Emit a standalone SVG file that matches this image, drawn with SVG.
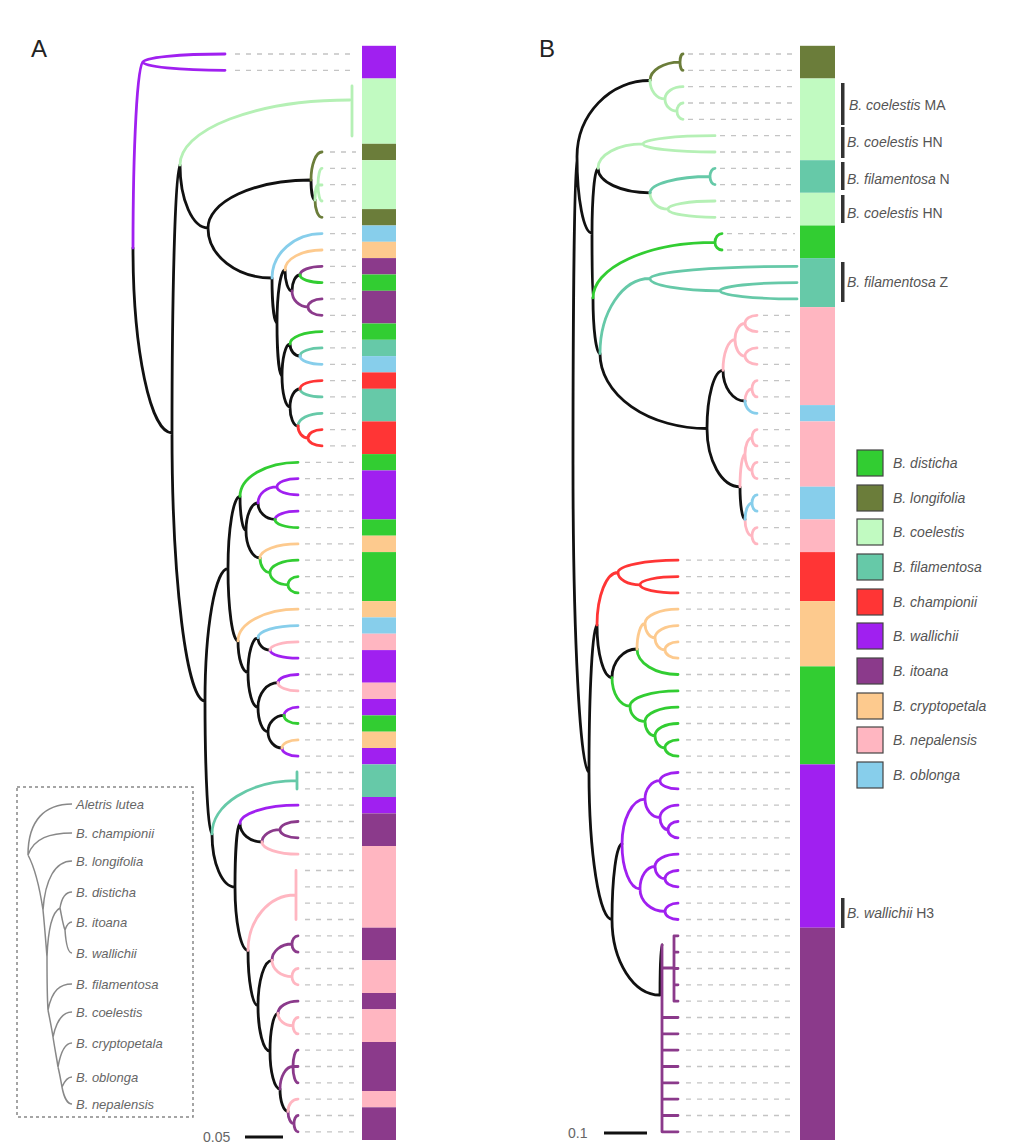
<svg xmlns="http://www.w3.org/2000/svg" width="1020" height="1147" viewBox="0 0 1020 1147">
<style>
.t{fill:none;stroke-width:2.8;stroke-linecap:round;stroke-linejoin:round}
.k{stroke:#111}.W{stroke:#a020f0}.I{stroke:#8b3a8b}.D{stroke:#32cd32}.L{stroke:#6b7d3a}.C{stroke:#b5f0b5}.F{stroke:#66c9a8}.R{stroke:#ff3535}.P{stroke:#fdca8e}.N{stroke:#ffb6c1}.O{stroke:#87ceeb}
.fW{fill:#a020f0}.fI{fill:#8b3a8b}.fD{fill:#32cd32}.fL{fill:#6b7d3a}.fC{fill:#c1fac1}.fF{fill:#66c9a8}.fR{fill:#ff3535}.fP{fill:#fdca8e}.fN{fill:#ffb6c1}.fO{fill:#87ceeb}
.dash{fill:none;stroke:#c4c4c4;stroke-width:1.3;stroke-dasharray:5 6}
.lab{font-family:"Liberation Sans",Arial,sans-serif;font-size:14px;fill:#555;font-style:italic}
.ins{font-family:"Liberation Sans",Arial,sans-serif;font-size:13px;fill:#666;font-style:italic}
.gr{fill:none;stroke:#888;stroke-width:1.5}
.sq{stroke:#444;stroke-width:1.2}
.br{fill:#333}
</style>

<text x="31" y="57" font-family="Liberation Sans, Arial, sans-serif" font-size="24" fill="#222">A</text>
<text x="539" y="57" font-family="Liberation Sans, Arial, sans-serif" font-size="24" fill="#222">B</text>

<!-- dashed guide lines -->
<g id="dashesA">
<path class="dash" d="M235 54H356M235 70.3H356M330 152H356M330 168.3H356M330 184.6H356M330 201H356M330 217.3H356M330 233.6H356M330 250H356M330 266.3H356M330 282.6H356M330 298.9H356M330 315.3H356M330 331.6H356M330 347.9H356M330 364.3H356M330 380.6H356M330 396.9H356M330 413.3H356M330 429.6H356M330 445.9H356M305 462.3H356M305 478.6H356M305 494.9H356M305 511.2H356M305 527.6H356M305 543.9H356M305 560.2H356M305 576.6H356M305 592.9H356M305 609.2H356M305 625.6H356M305 641.9H356M305 658.2H356M305 674.5H356M305 690.9H356M305 707.2H356M305 723.5H356M305 739.9H356M305 756.2H356M305 772.5H356M305 788.9H356M305 805.2H356M305 821.5H356M305 837.8H356M305 854.2H356M305 870.5H356M305 886.8H356M305 903.2H356M305 919.5H356M305 935.8H356M305 952.2H356M305 968.5H356M305 984.8H356M305 1001.2H356M305 1017.5H356M305 1033.8H356M305 1050.1H356M305 1066.5H356M305 1082.8H356M305 1099.1H356M305 1115.5H356M305 1131.8H356"/>
</g>
<g id="dashesB">
<path class="dash" d="M688 54H795M688 70.3H795M688 86.7H795M688 103H795M688 119.3H795M720 135.7H795M720 152H795M720 168.3H795M720 184.6H795M720 201H795M720 217.3H795M727 233.6H795M727 250H795M763 315.3H795M763 331.6H795M763 347.9H795M763 364.3H795M763 380.6H795M763 396.9H795M763 413.3H795M763 429.6H795M763 445.9H795M763 462.3H795M763 478.6H795M763 494.9H795M763 511.2H795M763 527.6H795M763 543.9H795M686 560.2H795M686 576.6H795M686 592.9H795M686 609.2H795M686 625.6H795M686 641.9H795M686 658.2H795M686 674.5H795M686 690.9H795M686 707.2H795M686 723.5H795M686 739.9H795M686 756.2H795M686 772.5H795M686 788.9H795M686 805.2H795M686 821.5H795M686 837.8H795M686 854.2H795M686 870.5H795M686 886.8H795M686 903.2H795M686 919.5H795M686 935.8H795M686 952.2H795M686 968.5H795M686 984.8H795M686 1001.2H795M686 1017.5H795M686 1033.8H795M686 1050.1H795M686 1066.5H795M686 1082.8H795M686 1099.1H795M686 1115.5H795M686 1131.8H795"/>
</g>

<!-- colour bar A -->
<g id="barA">
<rect class="fW" x="362" y="45.8" width="34" height="32.7"/>
<rect class="fC" x="362" y="78.5" width="34" height="65.3"/>
<rect class="fL" x="362" y="143.8" width="34" height="16.4"/>
<rect class="fC" x="362" y="160.2" width="34" height="48.9"/>
<rect class="fL" x="362" y="209.1" width="34" height="16.4"/>
<rect class="fO" x="362" y="225.5" width="34" height="16.3"/>
<rect class="fP" x="362" y="241.8" width="34" height="16.3"/>
<rect class="fI" x="362" y="258.1" width="34" height="16.4"/>
<rect class="fD" x="362" y="274.5" width="34" height="16.3"/>
<rect class="fI" x="362" y="290.8" width="34" height="32.7"/>
<rect class="fD" x="362" y="323.5" width="34" height="16.3"/>
<rect class="fF" x="362" y="339.8" width="34" height="16.3"/>
<rect class="fO" x="362" y="356.1" width="34" height="16.3"/>
<rect class="fR" x="362" y="372.4" width="34" height="16.4"/>
<rect class="fF" x="362" y="388.8" width="34" height="32.6"/>
<rect class="fR" x="362" y="421.4" width="34" height="32.7"/>
<rect class="fD" x="362" y="454.1" width="34" height="16.3"/>
<rect class="fW" x="362" y="470.4" width="34" height="49"/>
<rect class="fD" x="362" y="519.4" width="34" height="16.3"/>
<rect class="fP" x="362" y="535.7" width="34" height="16.4"/>
<rect class="fD" x="362" y="552.1" width="34" height="49"/>
<rect class="fP" x="362" y="601.1" width="34" height="16.3"/>
<rect class="fO" x="362" y="617.4" width="34" height="16.3"/>
<rect class="fN" x="362" y="633.7" width="34" height="16.4"/>
<rect class="fW" x="362" y="650.1" width="34" height="32.6"/>
<rect class="fN" x="362" y="682.7" width="34" height="16.3"/>
<rect class="fW" x="362" y="699" width="34" height="16.4"/>
<rect class="fD" x="362" y="715.4" width="34" height="16.3"/>
<rect class="fP" x="362" y="731.7" width="34" height="16.3"/>
<rect class="fW" x="362" y="748" width="34" height="16.4"/>
<rect class="fF" x="362" y="764.4" width="34" height="32.6"/>
<rect class="fW" x="362" y="797" width="34" height="16.4"/>
<rect class="fI" x="362" y="813.4" width="34" height="32.6"/>
<rect class="fN" x="362" y="846" width="34" height="81.7"/>
<rect class="fI" x="362" y="927.7" width="34" height="32.6"/>
<rect class="fN" x="362" y="960.3" width="34" height="32.7"/>
<rect class="fI" x="362" y="993" width="34" height="16.3"/>
<rect class="fN" x="362" y="1009.3" width="34" height="32.7"/>
<rect class="fI" x="362" y="1042" width="34" height="49"/>
<rect class="fN" x="362" y="1091" width="34" height="16.3"/>
<rect class="fI" x="362" y="1107.3" width="34" height="32.7"/>
</g>

<!-- colour bar B -->
<g id="barB">
<rect class="fL" x="800" y="45.8" width="35" height="32.7"/>
<rect class="fC" x="800" y="78.5" width="35" height="81.7"/>
<rect class="fF" x="800" y="160.2" width="35" height="32.6"/>
<rect class="fC" x="800" y="192.8" width="35" height="32.7"/>
<rect class="fD" x="800" y="225.5" width="35" height="32.6"/>
<rect class="fF" x="800" y="258.1" width="35" height="49"/>
<rect class="fN" x="800" y="307.1" width="35" height="98"/>
<rect class="fO" x="800" y="405.1" width="35" height="16.3"/>
<rect class="fN" x="800" y="421.4" width="35" height="65.3"/>
<rect class="fO" x="800" y="486.7" width="35" height="32.7"/>
<rect class="fN" x="800" y="519.4" width="35" height="32.7"/>
<rect class="fR" x="800" y="552.1" width="35" height="49"/>
<rect class="fP" x="800" y="601.1" width="35" height="65.3"/>
<rect class="fD" x="800" y="666.4" width="35" height="98"/>
<rect class="fW" x="800" y="764.4" width="35" height="163.3"/>
<rect class="fI" x="800" y="927.7" width="35" height="212.3"/>
</g>

<!-- tree A -->
<g id="treeA">
<path class="t k" d="M133 248A39 185 0 0 0 172 433M172 433A8 268 0 0 1 180 165M172 433A33 268 0 0 0 205 701M180 165A28 63 0 0 0 208 228M208 228A103 48 0 0 1 311 180M208 228A64 50 0 0 0 272 278M311 180A4 20 0 0 0 315 200M272 278A5 45 0 0 0 277 323M277 323A8 53 0 0 1 285 270M277 323A5 53 0 0 0 282 376M285 270A7 21 0 0 0 292 291M292 291A8 16 0 0 1 300 275M282 376A8 32 0 0 1 290 344M290 344A10 12 0 0 0 300 356M282 376A8 31 0 0 0 290 407M290 407A10 18 0 0 1 300 389M290 407A8 19 0 0 0 298 426M205 701A23 132.4 0 0 1 228 568.6M205 701A7 132.9 0 0 0 212 833.9M228 568.6A12 72.2 0 0 1 240 496.4M228 568.6A10 72.3 0 0 0 238 640.9M240 496.4A6 34.1 0 0 0 246 530.5M246 530.5A12 27.5 0 0 1 258 503M246 530.5A14 27.5 0 0 0 260 558M258 503A17 16.4 0 0 0 275 519.4M238 640.9A10 31.6 0 0 0 248 672.5M248 672.5A10 34.7 0 0 1 258 637.8M248 672.5A10 34.7 0 0 0 258 707.2M258 637.8A12 12.2 0 0 0 270 650M258 707.2A20 24.5 0 0 1 278 682.7M258 707.2A10 24.5 0 0 0 268 731.7M268 731.7A16 16.3 0 0 1 284 715.4M268 731.7A14 16.3 0 0 0 282 748M212 833.9A23 53.1 0 0 0 235 887M235 887A5 63.4 0 0 1 240 823.6M240 823.6A22 18.4 0 0 0 262 842M235 887A13 63.4 0 0 0 248 950.4M248 950.4A10 55.4 0 0 0 258 1005.8M258 1005.8A14 45.5 0 0 1 272 960.3M258 1005.8A12 45.4 0 0 0 270 1051.2M270 1051.2A8 37.8 0 0 1 278 1013.4M270 1051.2A10 37.8 0 0 0 280 1089M280 1089A8 22.4 0 0 0 288 1111.4"/>
<path class="t W" d="M133 248A10 186 0 0 1 143 62M143 62A82 8 0 0 1 225 54M143 62A82 8.3 0 0 0 225 70.3M258 503A19 16.2 0 0 1 277 486.8M277 486.8A21 8.2 0 0 1 298 478.6M277 486.8A21 8.1 0 0 0 298 494.9M275 519.4A23 8.2 0 0 1 298 511.2M270 650A28 8.2 0 0 0 298 658.2M278 682.7A20 8.2 0 0 1 298 674.5M284 715.4A14 8.2 0 0 1 298 707.2M282 748A16 8.2 0 0 0 298 756.2M240 823.6A58 18.4 0 0 1 298 805.2"/>
<path class="t I" d="M300 275A22 8.7 0 0 1 322 266.3M292 291A16 16 0 0 0 308 307M308 307A14 8.1 0 0 1 322 298.9M308 307A14 8.3 0 0 0 322 315.3M262 842A18 12.3 0 0 1 280 829.7M280 829.7A18 8.2 0 0 1 298 821.5M280 829.7A18 8.1 0 0 0 298 837.8M272 960.3A20 16.3 0 0 1 292 944M292 944A6 8.2 0 0 1 298 935.8M292 944A6 8.2 0 0 0 298 952.2M278 1013.4A20 12.2 0 0 1 298 1001.2M280 1089A13 22.5 0 0 1 293 1066.5M293 1066.5A5 16.4 0 0 1 298 1050.1M293 1066.5H298M293 1066.5A5 16.3 0 0 0 298 1082.8M288 1111.4A6 12.2 0 0 0 294 1123.6M294 1123.6A4 8.1 0 0 1 298 1115.5M294 1123.6A4 8.2 0 0 0 298 1131.8"/>
<path class="t D" d="M300 275A22 7.6 0 0 0 322 282.6M290 344A32 12.4 0 0 1 322 331.6M240 496.4A58 34.1 0 0 1 298 462.3M275 519.4A23 8.2 0 0 0 298 527.6M260 558A10 14.5 0 0 0 270 572.5M270 572.5A28 12.3 0 0 1 298 560.2M270 572.5A18 12.3 0 0 0 288 584.8M288 584.8A10 8.2 0 0 1 298 576.6M288 584.8A10 8.1 0 0 0 298 592.9M284 715.4A14 8.1 0 0 0 298 723.5"/>
<path class="t L" d="M311 180A11 28 0 0 1 322 152M315 200A7 17.3 0 0 0 322 217.3"/>
<path class="t C" d="M180 165A170 65 0 0 1 350 100M315 200A3 15 0 0 1 318 185M318 185A4 16.7 0 0 1 322 168.3M318 185H322M318 185A4 16 0 0 0 322 201"/>
<path class="t C" stroke-width="3.5" d="M352 86V136"/>
<path class="t F" d="M300 356A22 8.1 0 0 1 322 347.9M300 389A22 7.9 0 0 0 322 396.9M298 426A24 12.7 0 0 1 322 413.3M212 833.9A85 53.2 0 0 1 297 780.7M297 772V789"/>
<path class="t R" d="M300 389A22 8.4 0 0 1 322 380.6M298 426A10 12 0 0 0 308 438M308 438A14 8.4 0 0 1 322 429.6M308 438A14 7.9 0 0 0 322 445.9"/>
<path class="t P" d="M285 270A37 20 0 0 1 322 250M260 558A38 14.1 0 0 1 298 543.9M238 640.9A60 31.7 0 0 1 298 609.2M282 748A16 8.1 0 0 1 298 739.9"/>
<path class="t N" d="M270 650A28 8.1 0 0 1 298 641.9M278 682.7A20 8.2 0 0 0 298 690.9M262 842A36 12.2 0 0 0 298 854.2M248 950.4A47 55.4 0 0 1 295 895M296 870.5V919.5M272 960.3A20 16.4 0 0 0 292 976.7M292 976.7A6 8.2 0 0 1 298 968.5M292 976.7A6 8.1 0 0 0 298 984.8M278 1013.4A15 12.3 0 0 0 293 1025.7M293 1025.7A5 8.2 0 0 1 298 1017.5M293 1025.7A5 8.1 0 0 0 298 1033.8M288 1111.4A10 12.3 0 0 1 298 1099.1"/>
<path class="t O" d="M272 278A50 44.4 0 0 1 322 233.6M300 356A22 8.3 0 0 0 322 364.3M258 637.8A40 12.2 0 0 1 298 625.6"/>
</g>

<!-- tree B -->
<g id="treeB">
<path class="t k" d="M573 464.5A4 307.7 0 0 1 577 156.8M573 464.5A16 307.8 0 0 0 589 772.3M577 156.8A73 76.3 0 0 1 650 80.5M577 156.8A15 76.3 0 0 0 592 233.1M592 233.1A6 64.8 0 0 1 598 168.3M592 233.1A1 64.8 0 0 0 593 297.9M598 168.3A52 24.5 0 0 0 650 192.8M593 297.9A7 55.6 0 0 0 600 353.5M600 353.5A107 75 0 0 0 707 428.5M707 428.5A16 58.2 0 0 1 723 370.3M707 428.5A33 58.3 0 0 0 740 486.8M723 370.3A22 30.7 0 0 0 745 401M740 486.8A5 32.6 0 0 0 745 519.4M589 772.3A8 147.3 0 0 1 597 625M589 772.3A23 147.2 0 0 0 612 919.5M597 625A15 52.6 0 0 0 612 677.6M612 677.6A25 28.6 0 0 1 637 649M612 919.5A10 75.5 0 0 1 622 844M612 919.5A48 75.5 0 0 0 660 995M660 995A2 50 0 0 1 662 945"/>
<path class="t L" d="M650 80.5A30 18.3 0 0 1 680 62.2M680 62.2A3 8.2 0 0 1 683 54M680 62.2A3 8.1 0 0 0 683 70.3"/>
<path class="t C" d="M650 80.5A15 18.4 0 0 0 665 98.9M665 98.9A18 12.2 0 0 1 683 86.7M665 98.9A12 12.3 0 0 0 677 111.2M677 111.2A6 8.2 0 0 1 683 103M677 111.2A6 8.1 0 0 0 683 119.3M598 168.3A45 24.4 0 0 1 643 143.9M643 143.9A72 8.2 0 0 1 715 135.7M643 143.9A72 8.1 0 0 0 715 152M650 192.8A18 16.4 0 0 0 668 209.2M668 209.2A47 8.2 0 0 1 715 201M668 209.2A47 8.1 0 0 0 715 217.3"/>
<path class="t F" d="M650 192.8A60 16.3 0 0 1 710 176.5M710 176.5A5 8.2 0 0 1 715 168.3M710 176.5A5 8.1 0 0 0 715 184.6M600 353.5A50 75 0 0 1 650 278.5M650 278.5A147 12.2 0 0 1 797 266.3M650 278.5A70 12.3 0 0 0 720 290.8M720 290.8A77 8.2 0 0 1 797 282.6M720 290.8A77 8.1 0 0 0 797 298.9"/>
<path class="t D" d="M593 297.9A122 55.5 0 0 1 715 242.4M715 242.4A7 8.8 0 0 1 722 233.6M715 242.4A7 7.6 0 0 0 722 250M637 649A41 25.5 0 0 0 678 674.5M612 677.6A18 28.6 0 0 0 630 706.2M630 706.2A48 15.3 0 0 1 678 690.9M630 706.2A15 15.3 0 0 0 645 721.5M645 721.5A33 14.3 0 0 1 678 707.2M645 721.5A10 14.3 0 0 0 655 735.8M655 735.8A23 12.3 0 0 1 678 723.5M655 735.8A10 12.2 0 0 0 665 748M665 748A13 8.1 0 0 1 678 739.9M665 748A13 8.2 0 0 0 678 756.2"/>
<path class="t N" d="M723 370.3A12 30.7 0 0 1 735 339.6M735 339.6A10 16.1 0 0 1 745 323.5M745 323.5A12 8.2 0 0 1 757 315.3M745 323.5A12 8.1 0 0 0 757 331.6M735 339.6A10 16.5 0 0 0 745 356.1M745 356.1A12 8.2 0 0 1 757 347.9M745 356.1A12 8.2 0 0 0 757 364.3M745 401A7 12.2 0 0 1 752 388.8M752 388.8A5 8.2 0 0 1 757 380.6M752 388.8A5 8.1 0 0 0 757 396.9M740 486.8A5 32.7 0 0 1 745 454.1M745 454.1A7 16.3 0 0 1 752 437.8M752 437.8A5 8.2 0 0 1 757 429.6M752 437.8A5 8.1 0 0 0 757 445.9M745 454.1A7 16.3 0 0 0 752 470.4M752 470.4A5 8.1 0 0 1 757 462.3M752 470.4A5 8.2 0 0 0 757 478.6M745 519.4A7 16.4 0 0 0 752 535.8M752 535.8A5 8.2 0 0 1 757 527.6M752 535.8A5 8.1 0 0 0 757 543.9"/>
<path class="t O" d="M745 401A12 12.3 0 0 0 757 413.3M745 519.4A7 16.3 0 0 1 752 503.1M752 503.1A5 8.2 0 0 1 757 494.9M752 503.1A5 8.1 0 0 0 757 511.2"/>
<path class="t R" d="M597 625A21 52.5 0 0 1 618 572.5M618 572.5A60 12.3 0 0 1 678 560.2M618 572.5A22 12.3 0 0 0 640 584.8M640 584.8A38 8.2 0 0 1 678 576.6M640 584.8A38 8.1 0 0 0 678 592.9"/>
<path class="t P" d="M637 649A8 25.5 0 0 1 645 623.5M645 623.5A33 14.3 0 0 1 678 609.2M645 623.5A10 14.3 0 0 0 655 637.8M655 637.8A23 12.2 0 0 1 678 625.6M655 637.8A10 12.2 0 0 0 665 650M665 650A13 8.1 0 0 1 678 641.9M665 650A13 8.2 0 0 0 678 658.2"/>
<path class="t W" d="M622 844A23 44.9 0 0 1 645 799.1M645 799.1A15 18.4 0 0 1 660 780.7M660 780.7A18 8.2 0 0 1 678 772.5M660 780.7A18 8.2 0 0 0 678 788.9M645 799.1A15 18.4 0 0 0 660 817.5M660 817.5A18 12.3 0 0 1 678 805.2M660 817.5A8 12.2 0 0 0 668 829.7M668 829.7A10 8.2 0 0 1 678 821.5M668 829.7A10 8.1 0 0 0 678 837.8M622 844A18 45 0 0 0 640 889M640 889A15 22.5 0 0 1 655 866.5M655 866.5A23 12.3 0 0 1 678 854.2M655 866.5A10 12.2 0 0 0 665 878.7M665 878.7A13 8.2 0 0 1 678 870.5M665 878.7A13 8.1 0 0 0 678 886.8M640 889A25 22.4 0 0 0 665 911.4M665 911.4A13 8.2 0 0 1 678 903.2M665 911.4A13 8.1 0 0 0 678 919.5"/>
<path class="t I" d="M662 945V1131.8M674 935.8V1001.2M662 968H674M674 935.8H678M674 952.2H678M674 968.5H678M674 984.8H678M674 1001.2H678M662 1017.5H678M662 1033.8H678M662 1050.1H678M662 1066.5H678M662 1082.8H678M662 1099.1H678M662 1115.5H678M662 1131.8H678"/>
</g>

<!-- scale bars -->
<g id="scaleA">
<text x="203" y="1142" font-family="Liberation Sans, Arial, sans-serif" font-size="14" fill="#666">0.05</text>
<path d="M245 1137H283" stroke="#111" stroke-width="3"/>
</g>
<g id="scaleB">
<text x="568" y="1138" font-family="Liberation Sans, Arial, sans-serif" font-size="14" fill="#666">0.1</text>
<path d="M604 1133H647" stroke="#111" stroke-width="3"/>
</g>

<!-- inset species tree -->
<g id="inset">
<rect x="17" y="787" width="176" height="330" fill="none" stroke="#888" stroke-width="1.5" stroke-dasharray="3 3"/>
<path class="gr" d="M28 855C28 820 45 804 72 804M28 855C34 838 50 833 72 833M28 855C36 870 40 890 43 910M43 910C45 880 55 861 72 861M43 910C45 930 46 945 47 957M47 957C48 930 52 912 60 908M60 908C62 896 66 892 72 892M60 908C62 918 63 925 65 930M65 930C67 924 69 922 72 922M65 930C66 945 68 953 72 953M47 957C47 980 47 995 48 1010M48 1010C52 990 60 984 72 984M48 1010C50 1020 52 1030 53 1037M53 1037C57 1018 64 1012 72 1012M53 1037C55 1050 57 1060 58 1067M58 1067C61 1050 66 1043 72 1043M58 1067C60 1075 61 1082 62 1087M62 1087C65 1080 68 1077 72 1077M62 1087C64 1098 68 1104 72 1104"/>
<text class="ins" x="76" y="808.5">Aletris lutea</text>
<text class="ins" x="76" y="837.5">B. championii</text>
<text class="ins" x="76" y="865.5">B. longifolia</text>
<text class="ins" x="76" y="896.5">B. disticha</text>
<text class="ins" x="76" y="926.5">B. itoana</text>
<text class="ins" x="76" y="957.5">B. wallichii</text>
<text class="ins" x="76" y="988.5">B. filamentosa</text>
<text class="ins" x="76" y="1016.5">B. coelestis</text>
<text class="ins" x="76" y="1047.5">B. cryptopetala</text>
<text class="ins" x="76" y="1081.5">B. oblonga</text>
<text class="ins" x="76" y="1108.5">B. nepalensis</text>
</g>

<!-- bracket labels panel B -->
<g id="lab-coelestis-MA"><rect class="br" x="841" y="83" width="3.5" height="42"/><text class="lab" x="849" y="110">B. coelestis<tspan font-style="normal"> MA</tspan></text></g>
<g id="lab-coelestis-HN1"><rect class="br" x="841" y="127" width="3.5" height="31"/><text class="lab" x="847" y="147">B. coelestis<tspan font-style="normal"> HN</tspan></text></g>
<g id="lab-filamentosa-N"><rect class="br" x="841" y="162" width="3.5" height="28"/><text class="lab" x="847" y="184">B. filamentosa<tspan font-style="normal"> N</tspan></text></g>
<g id="lab-coelestis-HN2"><rect class="br" x="841" y="195" width="3.5" height="28"/><text class="lab" x="847" y="218">B. coelestis<tspan font-style="normal"> HN</tspan></text></g>
<g id="lab-filamentosa-Z"><rect class="br" x="841" y="262" width="3.5" height="40"/><text class="lab" x="847" y="287">B. filamentosa<tspan font-style="normal"> Z</tspan></text></g>
<g id="lab-wallichii-H3"><rect class="br" x="841" y="898" width="3.5" height="30"/><text class="lab" x="847" y="918">B. wallichii<tspan font-style="normal"> H3</tspan></text></g>

<!-- legend -->
<g id="legend">
<g id="leg-disticha"><rect class="fD sq" x="857" y="450" width="26" height="26"/><text class="lab" x="893" y="468">B. disticha</text></g>
<g id="leg-longifolia"><rect class="fL sq" x="857" y="485" width="26" height="26"/><text class="lab" x="893" y="503">B. longifolia</text></g>
<g id="leg-coelestis"><rect class="fC sq" x="857" y="519" width="26" height="26"/><text class="lab" x="893" y="537">B. coelestis</text></g>
<g id="leg-filamentosa"><rect class="fF sq" x="857" y="554" width="26" height="26"/><text class="lab" x="893" y="572">B. filamentosa</text></g>
<g id="leg-championii"><rect class="fR sq" x="857" y="589" width="26" height="26"/><text class="lab" x="893" y="607">B. championii</text></g>
<g id="leg-wallichii"><rect class="fW sq" x="857" y="623" width="26" height="26"/><text class="lab" x="893" y="641">B. wallichii</text></g>
<g id="leg-itoana"><rect class="fI sq" x="857" y="658" width="26" height="26"/><text class="lab" x="893" y="676">B. itoana</text></g>
<g id="leg-cryptopetala"><rect class="fP sq" x="857" y="693" width="26" height="26"/><text class="lab" x="893" y="711">B. cryptopetala</text></g>
<g id="leg-nepalensis"><rect class="fN sq" x="857" y="727" width="26" height="26"/><text class="lab" x="893" y="745">B. nepalensis</text></g>
<g id="leg-oblonga"><rect class="fO sq" x="857" y="762" width="26" height="26"/><text class="lab" x="893" y="780">B. oblonga</text></g>
</g>
</svg>
